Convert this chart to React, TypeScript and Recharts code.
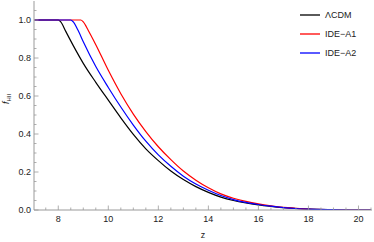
import { LineChart, Line, XAxis, YAxis } from 'recharts'

// reionization history f_HII(z)
const zLcdm = [7.05, 8.0, 8.1, 8.3, 8.6, 9.0, 9.5, 10.0, 10.5, 11.0, 11.5, 12.0, 12.5, 13.0, 13.5, 14.0, 14.5, 15.0, 15.5, 16.0, 16.5, 17.0, 17.5, 18.0, 19.0, 20.0, 20.5]
const fLcdm = [1.0, 1.0, 0.99, 0.94, 0.865, 0.772, 0.672, 0.578, 0.485, 0.398, 0.322, 0.26, 0.205, 0.16, 0.123, 0.093, 0.068, 0.05, 0.037, 0.027, 0.019, 0.012, 0.008, 0.005, 0.002, 0.0, 0.0]

const zA1 = [7.05, 8.9, 9.0, 9.2, 9.5, 10.0, 10.5, 11.0, 11.5, 12.0, 12.5, 13.0, 13.5, 14.0, 14.5, 15.0, 15.5, 16.0, 16.5, 17.0, 17.5, 18.0, 19.0, 20.0, 20.5]
const fA1 = [1.0, 1.0, 0.99, 0.945, 0.87, 0.735, 0.612, 0.505, 0.413, 0.333, 0.265, 0.205, 0.157, 0.117, 0.085, 0.062, 0.045, 0.032, 0.022, 0.014, 0.009, 0.005, 0.002, 0.0, 0.0]

const zA2 = [7.05, 8.5, 8.6, 8.8, 9.0, 9.5, 10.0, 10.5, 11.0, 11.5, 12.0, 12.5, 13.0, 13.5, 14.0, 14.5, 15.0, 15.5, 16.0, 16.5, 17.0, 17.5, 18.0, 19.0, 20.0, 20.5]
const fA2 = [1.0, 1.0, 0.99, 0.943, 0.885, 0.755, 0.645, 0.542, 0.447, 0.362, 0.29, 0.23, 0.178, 0.137, 0.104, 0.076, 0.055, 0.04, 0.029, 0.02, 0.013, 0.008, 0.005, 0.002, 0.0, 0.0]

const xMajor = [8, 10, 12, 14, 16, 18, 20]
const xTicks = [7.5, 8, 8.5, 9, 9.5, 10, 10.5, 11, 11.5, 12, 12.5, 13, 13.5, 14, 14.5, 15, 15.5, 16, 16.5, 17, 17.5, 18, 18.5, 19, 19.5, 20, 20.5]
const yMajor = [0, 0.2, 0.4, 0.6, 0.8, 1.0]
const yTicks = [0, 0.05, 0.1, 0.15, 0.2, 0.25, 0.3, 0.35, 0.4, 0.45, 0.5, 0.55, 0.6, 0.65, 0.7, 0.75, 0.8, 0.85, 0.9, 0.95, 1.0, 1.05]

const toRows = (zs: number[], fs: number[]) => zs.map((z, i) => ({ z, f: fs[i] }))

const series = [
  { name: 'ΛCDM', color: '#000000', data: toRows(zLcdm, fLcdm) },
  { name: 'IDE−A1', color: '#ff0000', data: toRows(zA1, fA1) },
  { name: 'IDE−A2', color: '#0000ff', data: toRows(zA2, fA2) },
]

const frame = '#9a9a9a'
const font = '"Liberation Sans", Arial, sans-serif'

const tickFor = (side: 'bottom' | 'top' | 'left' | 'right') => (props: any) => {
  const { x, y, payload } = props
  const v = payload.value
  const major = side === 'bottom' || side === 'top' ? xMajor.includes(v) : yMajor.includes(v)
  const len = major ? 4.5 : 2.5
  if (side === 'bottom') {
    return (
      <g>
        <line x1={x} x2={x} y1={y} y2={y - len} stroke={frame} strokeWidth={0.8} />
        {major && <text x={x} y={y + 12} textAnchor="middle" fontSize={9} fill="#222" fontFamily={font}>{v}</text>}
      </g>
    )
  }
  if (side === 'top') {
    return <line x1={x} x2={x} y1={y} y2={y + len} stroke={frame} strokeWidth={0.8} />
  }
  if (side === 'left') {
    return (
      <g>
        <line x1={x} x2={x + len} y1={y} y2={y} stroke={frame} strokeWidth={0.8} />
        {major && <text x={x - 3} y={y + 3.2} textAnchor="end" fontSize={9} fill="#222" fontFamily={font}>{v.toFixed(1)}</text>}
      </g>
    )
  }
  return <line x1={x} x2={x - len} y1={y} y2={y} stroke={frame} strokeWidth={0.8} />
}

const YLab = () => (
  <text transform="translate(9, 99) rotate(-90)" textAnchor="middle" fontSize={9} fill="#222" fontFamily={font}>
    <tspan fontStyle="italic">f</tspan>
    <tspan fontSize={6} dy={2}>HII</tspan>
  </text>
)

const XLab = () => (
  <text x={203} y={238} textAnchor="middle" fontSize={9} fill="#222" fontFamily={font}>z</text>
)

const LegendBox = () => (
  <div style={{ position: 'absolute', top: 5, left: 300, fontFamily: font, fontSize: 9, color: '#222' }}>
    {series.map((s) => (
      <div key={s.name} style={{ display: 'flex', alignItems: 'center', height: 19 }}>
        <svg width={20} height={4} style={{ marginRight: 5 }}>
          <line x1={0} x2={20} y1={2} y2={2} stroke={s.color} strokeWidth={1.3} />
        </svg>
        <span>{s.name}</span>
      </div>
    ))}
  </div>
)

export default function App() {
  return (
    <div style={{ position: 'absolute', left: 0, top: 0, width: 374, height: 242, background: '#fff' }}>
      <LineChart width={374} height={242} margin={{ top: 1, right: 2, bottom: 0, left: 0 }}>
        <XAxis
          xAxisId="b"
          dataKey="z"
          type="number"
          domain={[7.03, 20.54]}
          allowDataOverflow
          ticks={xTicks}
          interval={0}
          height={32}
          tickSize={0}
          tickMargin={0}
          tickLine={false}
          axisLine={{ stroke: frame }}
          tick={tickFor('bottom')}
          label={<XLab />}
        />
        <XAxis
          xAxisId="t"
          orientation="top"
          dataKey="z"
          type="number"
          domain={[7.03, 20.54]}
          allowDataOverflow
          ticks={xTicks}
          interval={0}
          height={0}
          tickSize={0}
          tickMargin={0}
          tickLine={false}
          axisLine={{ stroke: frame }}
          tick={tickFor('top')}
        />
        <YAxis
          yAxisId="l"
          type="number"
          domain={[0, 1.1]}
          allowDataOverflow
          ticks={yTicks}
          interval={0}
          width={34}
          tickSize={0}
          tickMargin={0}
          tickLine={false}
          axisLine={{ stroke: frame }}
          tick={tickFor('left')}
          label={<YLab />}
        />
        <YAxis
          yAxisId="r"
          orientation="right"
          type="number"
          domain={[0, 1.1]}
          allowDataOverflow
          ticks={yTicks}
          interval={0}
          width={0}
          tickSize={0}
          tickMargin={0}
          tickLine={false}
          axisLine={{ stroke: frame }}
          tick={tickFor('right')}
        />
        {series.map((s) => (
          <Line
            key={s.name}
            xAxisId="b"
            yAxisId="l"
            data={s.data}
            dataKey="f"
            name={s.name}
            type="monotone"
            stroke={s.color}
            strokeWidth={1.2}
            dot={false}
            isAnimationActive={false}
          />
        ))}
      </LineChart>
      <LegendBox />
    </div>
  )
}
